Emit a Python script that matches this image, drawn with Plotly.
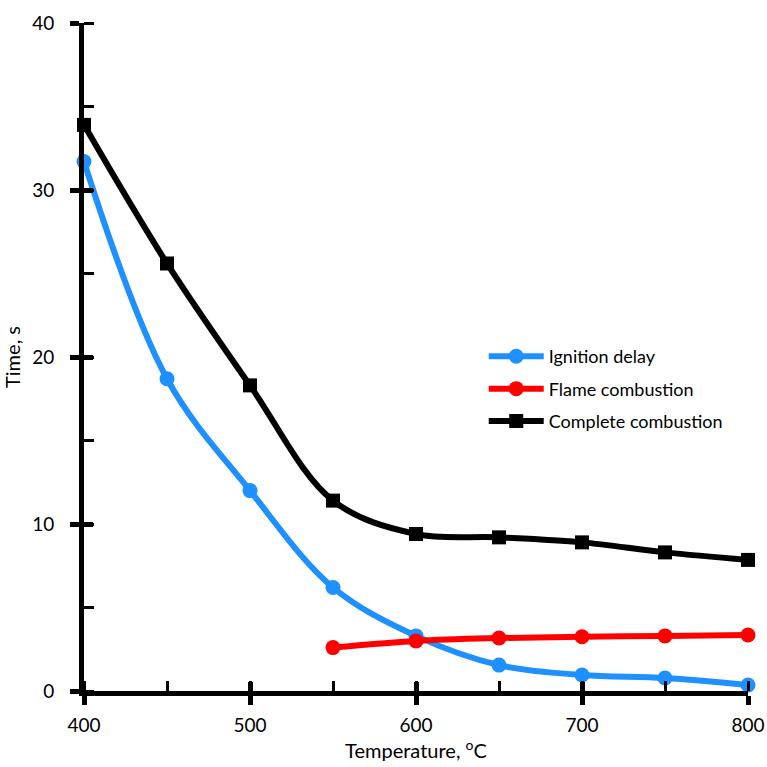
import plotly.graph_objects as go

temps_ign = [400, 450, 500, 550, 600, 650, 700, 750, 800]
ignition_delay = [31.7, 18.7, 12.0, 6.2, 3.3, 1.55, 0.96, 0.78, 0.36]

temps_flame = [550, 600, 650, 700, 750, 800]
flame_combustion = [2.6, 3.0, 3.17, 3.25, 3.3, 3.35]

temps_comp = [400, 450, 500, 550, 600, 650, 700, 750, 800]
complete_combustion = [33.9, 25.6, 18.3, 11.4, 9.4, 9.2, 8.9, 8.3, 7.85]

x_ticks = [400, 500, 600, 700, 800]
y_ticks = [0, 10, 20, 30, 40]

FONT = "Lato"

fig = go.Figure()
fig.add_trace(go.Scatter(
    x=temps_ign, y=ignition_delay, name="Ignition delay", legendgroup="a",
    mode="lines+markers", line=dict(color="#1E90FF", width=6, shape="spline"),
    marker=dict(symbol="circle", size=15, color="#1E90FF"), cliponaxis=False))
fig.add_trace(go.Scatter(
    x=temps_flame, y=flame_combustion, name="Flame combustion", legendgroup="b",
    mode="lines+markers", line=dict(color="#FF0000", width=6, shape="spline"),
    marker=dict(symbol="circle", size=15, color="#FF0000"), cliponaxis=False))
fig.add_trace(go.Scatter(
    x=temps_comp, y=complete_combustion, name="Complete combustion", legendgroup="c",
    mode="lines+markers", line=dict(color="#000000", width=6, shape="spline"),
    marker=dict(symbol="square", size=14, color="#000000"), cliponaxis=False))

axis_common = dict(showgrid=False, zeroline=False, showline=True, linecolor="black",
                   linewidth=5, ticks="outside", ticklen=9, tickwidth=5, automargin=False,
                   tickcolor="black", tickfont=dict(family=FONT, size=19, color="black"))

fig.update_layout(
    width=767, height=767,
    margin=dict(l=84, r=19, t=23, b=76),
    plot_bgcolor="white", paper_bgcolor="white",
    font=dict(family=FONT, size=19, color="black"),
    xaxis=dict(range=[400, 800], tickvals=x_ticks, **axis_common,
               minor=dict(ticks="inside", dtick=50, tick0=400, ticklen=10, tickwidth=3,
                          tickcolor="black", showgrid=False),
               title=dict(text="Temperature, <sup>o</sup>C", font=dict(family=FONT, size=20),
                          standoff=4),
               ticklabelstandoff=4),
    yaxis=dict(range=[0, 40], tickvals=y_ticks, **axis_common,
               minor=dict(ticks="inside", dtick=5, tick0=0, ticklen=10, tickwidth=3,
                          tickcolor="black", showgrid=False),
               title=dict(text="Time, s", font=dict(family=FONT, size=20), standoff=8),
               ticklabelstandoff=12),
    xaxis2=dict(range=[400, 800], tickvals=x_ticks, overlaying="x", side="bottom",
                showgrid=False, zeroline=False, showline=False, ticks="inside",
                ticklen=9, tickwidth=5, tickcolor="black", showticklabels=False,
                anchor="y", automargin=False),
    yaxis2=dict(range=[0, 40], tickvals=y_ticks, overlaying="y", side="left",
                showgrid=False, zeroline=False, showline=False, ticks="inside",
                ticklen=9, tickwidth=5, tickcolor="black", showticklabels=False,
                anchor="x", automargin=False),
    legend=dict(x=0.602, y=0.452, xanchor="left", yanchor="middle",
                bgcolor="rgba(0,0,0,0)", font=dict(family=FONT, size=18),
                itemwidth=55, tracegroupgap=6),
    showlegend=True,
)
fig.add_trace(go.Scatter(x=[400], y=[0], xaxis="x2", yaxis="y2", mode="markers",
                         marker=dict(opacity=0), showlegend=False, hoverinfo="skip"))

fig.write_html("out.html", config={"displayModeBar": False},
               post_script="document.body.style.margin='0';document.body.style.overflow='hidden';")
